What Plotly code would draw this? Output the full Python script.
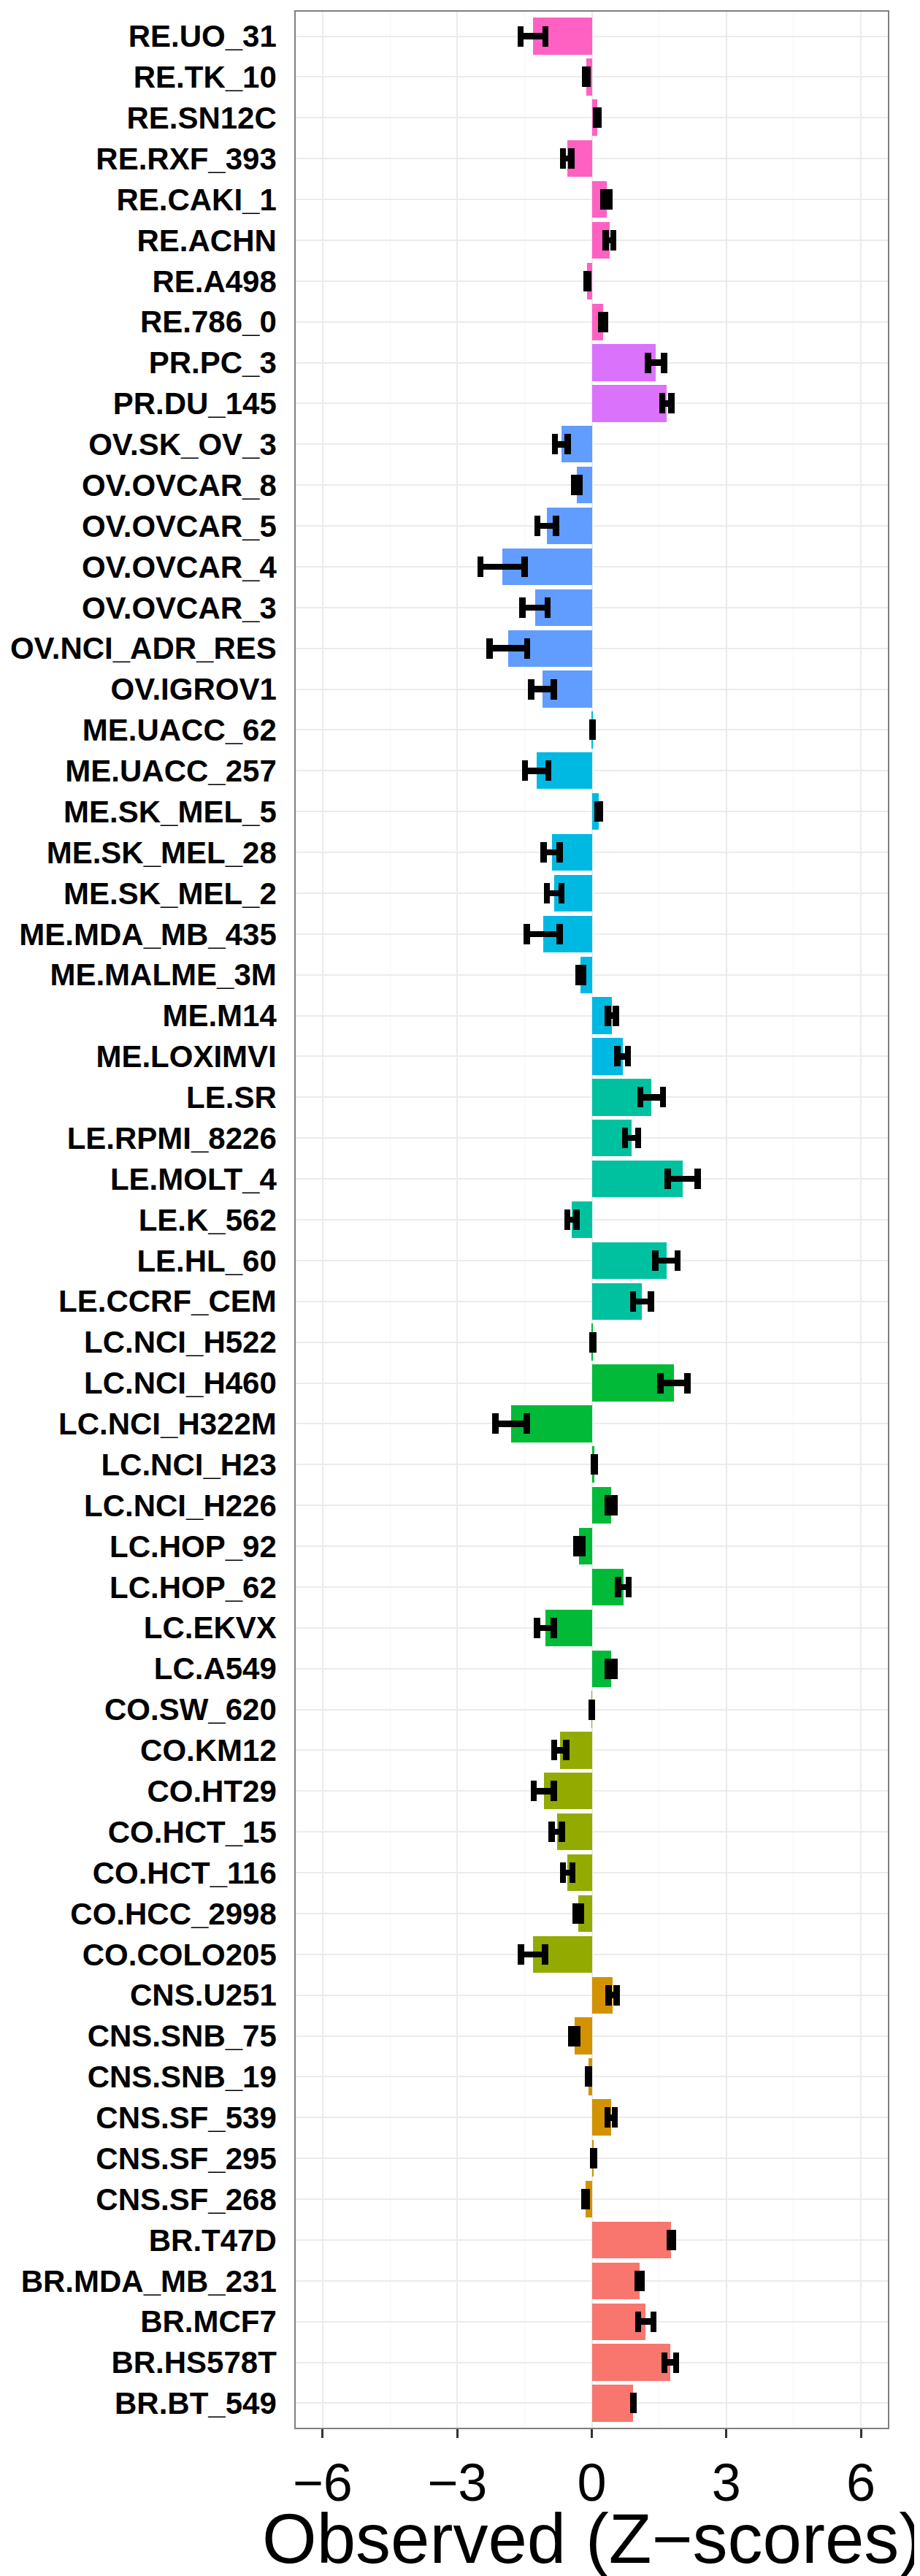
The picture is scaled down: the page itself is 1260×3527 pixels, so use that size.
import plotly.graph_objects as go

cell_lines = [
    "RE.UO_31", "RE.TK_10", "RE.SN12C", "RE.RXF_393", "RE.CAKI_1", "RE.ACHN", "RE.A498", "RE.786_0",
    "PR.PC_3", "PR.DU_145",
    "OV.SK_OV_3", "OV.OVCAR_8", "OV.OVCAR_5", "OV.OVCAR_4", "OV.OVCAR_3", "OV.NCI_ADR_RES", "OV.IGROV1",
    "ME.UACC_62", "ME.UACC_257", "ME.SK_MEL_5", "ME.SK_MEL_28", "ME.SK_MEL_2", "ME.MDA_MB_435",
    "ME.MALME_3M", "ME.M14", "ME.LOXIMVI",
    "LE.SR", "LE.RPMI_8226", "LE.MOLT_4", "LE.K_562", "LE.HL_60", "LE.CCRF_CEM",
    "LC.NCI_H522", "LC.NCI_H460", "LC.NCI_H322M", "LC.NCI_H23", "LC.NCI_H226", "LC.HOP_92",
    "LC.HOP_62", "LC.EKVX", "LC.A549",
    "CO.SW_620", "CO.KM12", "CO.HT29", "CO.HCT_15", "CO.HCT_116", "CO.HCC_2998", "CO.COLO205",
    "CNS.U251", "CNS.SNB_75", "CNS.SNB_19", "CNS.SF_539", "CNS.SF_295", "CNS.SF_268",
    "BR.T47D", "BR.MDA_MB_231", "BR.MCF7", "BR.HS578T", "BR.BT_549",
]

z_scores = [
    -1.31, -0.12, 0.12, -0.55, 0.33, 0.395, -0.10, 0.253,
    1.43, 1.67,
    -0.68, -0.33, -1.006, -1.99, -1.265, -1.86, -1.10,
    0.01, -1.23, 0.156, -0.895, -0.84, -1.085, -0.245, 0.448, 0.69,
    1.333, 0.887, 2.025, -0.444, 1.662, 1.12,
    0.02, 1.83, -1.797, 0.057, 0.429, -0.277, 0.703, -1.036, 0.429,
    0.005, -0.701, -1.069, -0.78, -0.538, -0.296, -1.312,
    0.463, -0.389, -0.072, 0.432, 0.039, -0.137,
    1.771, 1.062, 1.202, 1.75, 0.927,
]

z_errors = [
    0.273, 0.024, 0.024, 0.097, 0.07, 0.083, 0.02, 0.046,
    0.178, 0.10,
    0.145, 0.057, 0.207, 0.49, 0.283, 0.42, 0.25,
    0.005, 0.261, 0.03, 0.178, 0.164, 0.366, 0.051, 0.092, 0.118,
    0.25, 0.145, 0.334, 0.10, 0.248, 0.20,
    0.01, 0.301, 0.35, 0.013, 0.075, 0.062, 0.121, 0.186, 0.075,
    0.005, 0.135, 0.223, 0.116, 0.105, 0.062, 0.269,
    0.089, 0.07, 0.016, 0.081, 0.011, 0.024,
    0.04, 0.048, 0.172, 0.129, 0.005,
]

group_colors = {
    "BR": "#F8766D", "CNS": "#D39200", "CO": "#93AA00", "LC": "#00BA38", "LE": "#00C19F",
    "ME": "#00B9E3", "OV": "#619CFF", "PR": "#DB72FB", "RE": "#FF61C3",
}

x_ticks = [-6, -3, 0, 3, 6]
x_tick_labels = ["\u22126", "\u22123", "0", "3", "6"]
x_minor = [-4.5, -1.5, 1.5, 4.5]
x_title = "Observed (Z\u2212scores)"

colors = [group_colors[c.split(".")[0]] for c in cell_lines]

fig = go.Figure()
fig.add_trace(go.Bar(
    x=z_scores,
    y=cell_lines,
    orientation="h",
    width=0.9,
    marker=dict(color=colors, line=dict(width=0)),
    error_x=dict(type="data", array=z_errors, visible=True, color="black",
                 thickness=8.5, width=14),
    showlegend=False,
))

n = len(cell_lines)
# the page body has an 8px default margin, so the figure is made 16px smaller
fig_w, fig_h = 1252, 3519
top, bottom = 6, 203
panel_h = fig_h - top - bottom
fig.update_layout(
    width=fig_w, height=fig_h,
    margin=dict(l=390, r=44, t=top, b=bottom),
    paper_bgcolor="white", plot_bgcolor="white",
    font=dict(family="Liberation Sans, Arial, sans-serif", color="black"),
    bargap=0,
)
fig.update_xaxes(
    range=[-6.6, 6.6],
    tickvals=x_ticks, ticktext=x_tick_labels,
    tickfont=dict(size=72, color="black"),
    ticks="outside", ticklen=12, tickwidth=2.5, tickcolor="#333333",
    showgrid=True, gridcolor="#ebebeb", gridwidth=1.6,
    minor=dict(tickvals=x_minor, showgrid=True, gridcolor="#f6f6f6", gridwidth=0.8, ticks=""),
    zeroline=False,
    showline=True, linecolor="#7f7f7f", linewidth=1.6, mirror=True,
)
fig.update_yaxes(
    type="category",
    categoryorder="array", categoryarray=cell_lines,
    range=[n - 1 + 0.6, -0.6],
    tickfont=dict(size=42, color="black", weight="bold"),
    ticks="", ticklabelstandoff=16,
    showgrid=True, gridcolor="#ebebeb", gridwidth=1.6,
    zeroline=False,
    showline=True, linecolor="#7f7f7f", linewidth=1.6, mirror=True,
)
fig.add_annotation(
    text=x_title, xref="paper", yref="paper",
    x=0.5, y=-152 / panel_h, xanchor="center", yanchor="middle",
    showarrow=False, font=dict(size=96, color="black"),
)

fig.write_html("out.html")
